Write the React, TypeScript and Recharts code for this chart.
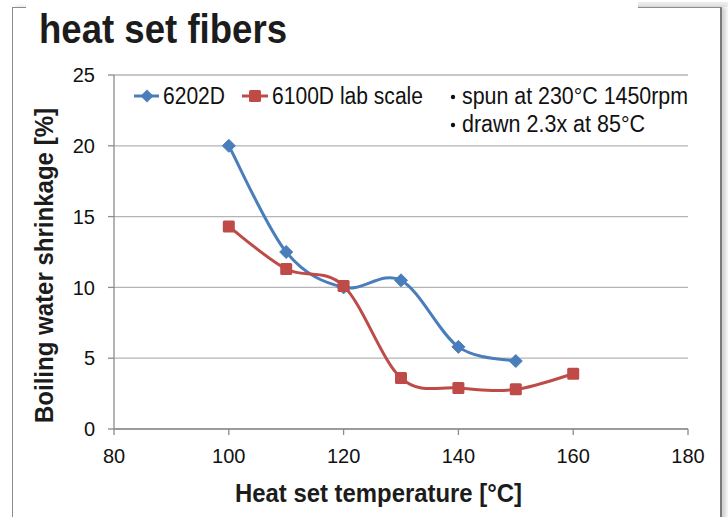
import React from "react";
import { CartesianGrid, Line, LineChart, XAxis, YAxis } from "recharts";

const temperatures = [100, 110, 120, 130, 140, 150, 160];
const shrink6202D = [20, 12.5, 10, 10.5, 5.8, 4.8, null];
const shrink6100D = [14.3, 11.3, 10.1, 3.6, 2.9, 2.8, 3.9];
const xTicks = [80, 100, 120, 140, 160, 180];
const yTicks = [0, 5, 10, 15, 20, 25];
const seriesNames = ["6202D", "6100D lab scale"];
const notes = ["spun at 230°C 1450rpm", "drawn 2.3x at 85°C"];

const BLUE = "#4a7ebb";
const RED = "#be4b48";
const FONT = "'Liberation Sans', Arial, sans-serif";

const data = temperatures.map((t, i) => ({
  t,
  a: shrink6202D[i],
  b: shrink6100D[i],
}));

// Excel-style smoothing (Catmull-Rom through every point)
function smoothCurve(context: any) {
  let pts: number[][] = [];
  return {
    areaStart() {},
    areaEnd() {},
    lineStart() {
      pts = [];
    },
    point(x: number, y: number) {
      pts.push([+x, +y]);
    },
    lineEnd() {
      if (!pts.length) return;
      context.moveTo(pts[0][0], pts[0][1]);
      const k = 1 / 6;
      for (let i = 0; i < pts.length - 1; i++) {
        const p0 = pts[Math.max(i - 1, 0)];
        const p1 = pts[i];
        const p2 = pts[i + 1];
        const p3 = pts[Math.min(i + 2, pts.length - 1)];
        context.bezierCurveTo(
          p1[0] + (p2[0] - p0[0]) * k,
          p1[1] + (p2[1] - p0[1]) * k,
          p2[0] - (p3[0] - p1[0]) * k,
          p2[1] - (p3[1] - p1[1]) * k,
          p2[0],
          p2[1]
        );
      }
    },
  };
}

function Diamond(props: any) {
  const { cx, cy } = props;
  if (cx == null || cy == null || props.value == null) return <g key={props.key} />;
  const r = 6.5;
  return (
    <path
      key={props.key}
      d={`M${cx},${cy - r}L${cx + r},${cy}L${cx},${cy + r}L${cx - r},${cy}Z`}
      fill={BLUE}
      stroke={BLUE}
      strokeWidth={1}
    />
  );
}

function Square(props: any) {
  const { cx, cy } = props;
  if (cx == null || cy == null || props.value == null) return <g key={props.key} />;
  const r = 6;
  return (
    <rect key={props.key} x={cx - r} y={cy - r} width={2 * r} height={2 * r} rx={1.5} fill={RED} />
  );
}

// title + legend box drawn on top of the chart
function Overlay() {
  const t = { fontFamily: FONT, fill: "#111", lengthAdjust: "spacingAndGlyphs" as const };
  return (
    <svg
      width={728}
      height={517}
      style={{ position: "absolute", left: 0, top: 0, pointerEvents: "none" }}
    >
      <text {...t} x={39} y={43} fontSize={40} fontWeight="bold" fill="#1c1c1c" textLength={248}>
        heat set fibers
      </text>

      <line x1={134} y1={96} x2={159} y2={96} stroke={BLUE} strokeWidth={3} />
      <path d="M147,89.5L153.5,96L147,102.5L140.5,96Z" fill={BLUE} />
      <text {...t} x={163} y={104} fontSize={23} textLength={62}>
        {seriesNames[0]}
      </text>

      <line x1={242} y1={96} x2={268} y2={96} stroke={RED} strokeWidth={3} />
      <rect x={249} y={90} width={12} height={12} rx={1.5} fill={RED} />
      <text {...t} x={272} y={104} fontSize={23} textLength={151}>
        {seriesNames[1]}
      </text>

      {notes.map((n, i) => (
        <g key={n}>
          <circle cx={453} cy={97 + i * 28} r={2.2} fill="#111" />
          <text {...t} x={462} y={104 + i * 28} fontSize={23} textLength={i === 0 ? 226 : 183}>
            {n}
          </text>
        </g>
      ))}
    </svg>
  );
}

export default function App() {
  return (
    <div
      style={{
        position: "absolute",
        left: 0,
        top: 0,
        width: 728,
        height: 517,
        background: "#fff",
        overflow: "hidden",
        fontFamily: FONT,
      }}
    >
      {/* slide frame */}
      <div
        style={{
          position: "absolute",
          left: 638,
          top: 2,
          width: 90,
          height: 5,
          background: "#ececec",
        }}
      />
      <div
        style={{
          position: "absolute",
          left: 12,
          top: 7,
          width: 707,
          height: 530,
          borderLeft: "1.5px solid #8c8c8c",
          borderTop: "1.5px solid #8c8c8c",
          borderRight: "2px solid #7a7a7a",
          boxShadow: "4px 0 4px rgba(0,0,0,0.18)",
        }}
      />
      <div
        style={{
          position: "absolute",
          left: 26,
          top: 0,
          width: 612,
          height: 12,
          background: "#fff",
        }}
      />
      <div style={{ position: "absolute", left: 0, top: 0 }}>
        <LineChart
          width={728}
          height={517}
          data={data}
          margin={{ top: 75, right: 40, bottom: 28, left: 54 }}
        >
          <CartesianGrid horizontal vertical={false} stroke="#b4b4b4" strokeWidth={1.3} />
          <XAxis
            dataKey="t"
            type="number"
            domain={[80, 180]}
            ticks={xTicks}
            interval={0}
            height={60}
            stroke="#8c8c8c"
            strokeWidth={1.3}
            tickSize={6}
            tick={{ fontSize: 20, fill: "#111", fontFamily: FONT, dy: 12 }}
            label={{
              content: () => (
                <text
                  x={378.5}
                  y={502}
                  textAnchor="middle"
                  fontSize={26}
                  fontWeight="bold"
                  fill="#1c1c1c"
                  fontFamily={FONT}
                  textLength={287}
                  lengthAdjust="spacingAndGlyphs"
                >
                  Heat set temperature [°C]
                </text>
              ),
            }}
          />
          <YAxis
            type="number"
            domain={[0, 25]}
            ticks={yTicks}
            interval={0}
            width={60}
            stroke="#8c8c8c"
            strokeWidth={1.3}
            tickSize={6}
            tick={{ fontSize: 20, fill: "#111", fontFamily: FONT, dx: -11 }}
            label={{
              content: () => (
                <text
                  x={53}
                  y={265.5}
                  transform="rotate(-90 53 265.5)"
                  textAnchor="middle"
                  fontSize={25}
                  fontWeight="bold"
                  fill="#1c1c1c"
                  fontFamily={FONT}
                  textLength={315}
                  lengthAdjust="spacingAndGlyphs"
                >
                  Boiling water shrinkage [%]
                </text>
              ),
            }}
          />
          <Line
            dataKey="a"
            type={smoothCurve as any}
            stroke={BLUE}
            strokeWidth={3}
            dot={Diamond}
            activeDot={false}
            isAnimationActive={false}
          />
          <Line
            dataKey="b"
            type={smoothCurve as any}
            stroke={RED}
            strokeWidth={3}
            dot={Square}
            activeDot={false}
            isAnimationActive={false}
          />
        </LineChart>
      </div>
      <Overlay />
    </div>
  );
}
